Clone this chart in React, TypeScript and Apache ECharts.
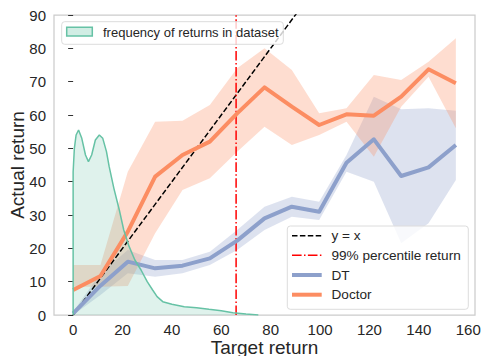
import React, { useEffect, useRef } from "react";
import * as echarts from "echarts";

const targets = [0, 11.07, 22.14, 33.21, 44.29, 55.36, 66.43, 77.5, 88.57, 99.64, 110.71, 121.79, 132.86, 143.93, 155];

const doctorMean = [7.5, 11.7, 25, 41.5, 48, 52, 60.5, 68.3, 62.5, 57, 60.2, 59.8, 65.5, 73.7, 69.5];
const doctorLow = [8.5, 8.5, 8.7, 24.5, 37.5, 41, 49, 56.5, 51, 54, 58, 47.5, 62.5, 71.5, 56];
const doctorHigh = [15, 15, 43, 58, 58.3, 63, 74, 80, 73.5, 60.5, 62, 72, 70.5, 76, 83];

const dtMean = [0.5, 8.8, 16, 14, 14.8, 17, 22.3, 29, 32.5, 31, 45.7, 52.7, 41.7, 44.3, 51];
const dtLow = [0, 6, 12.5, 11.5, 12.5, 15, 19.5, 25.5, 29.5, 28.5, 43, 40, 21.5, 27.5, 40.5];
const dtHigh = [1, 12.5, 19.5, 16.5, 16.5, 19, 25.5, 32.5, 35.5, 34, 48, 65.5, 61.7, 62, 61.3];

const kdeX = [0, 0, 0.5, 1.2, 2.2, 3.5, 5, 6.2, 7.5, 9, 10.6, 12, 13.5, 14.6, 16.5, 18.7, 20.5, 22.7, 25, 27.5, 30, 32.2, 34, 36.3, 40, 45, 50, 55, 60, 64.7, 70, 75];
const kdeY = [0, 43, 50, 54, 55.5, 53, 48, 46, 48, 52.5, 54, 53, 49, 44.5, 38, 31.5, 25.5, 20.5, 16.5, 13.5, 10, 7.5, 5.5, 4, 3.2, 2.5, 2.2, 1.7, 1.3, 0.7, 0.3, 0];

const identityLine = [0, 155];
const percentile99 = 66;
const yMax = 90;

const xTicks = [0, 20, 40, 60, 80, 100, 120, 140, 160];

const FONT = "'Liberation Sans', Arial, sans-serif";
const TEXT = "#262626";
const GREEN = "#66c2a5";
const ORANGE = "#fc8d62";
const BLUE = "#8da0cb";

function bandSeries(low: number[], high: number[], fill: string) {
  const data = targets.map((x, i) => [x, low[i], high[i]]);
  return {
    type: "custom",
    data,
    encode: { x: 0, y: [1, 2] },
    silent: true,
    renderItem: (params: any, api: any) => {
      if (params.dataIndex !== 0) return null;
      const upper = data.map((d) => api.coord([d[0], d[2]]));
      const lower = data.map((d) => api.coord([d[0], d[1]])).reverse();
      return {
        type: "polygon",
        shape: { points: upper.concat(lower) },
        style: { fill, stroke: "none" },
      };
    },
  };
}

function lineSeries(ys: number[], color: string, name: string) {
  return {
    type: "line",
    name,
    data: targets.map((x, i) => [x, ys[i]]),
    symbol: "none",
    showSymbol: false,
    lineStyle: { color, width: 4, join: "round", cap: "butt" },
    itemStyle: { color },
  };
}

export default function App() {
  const ref = useRef<HTMLDivElement>(null);

  useEffect(() => {
    if (!ref.current) return;
    const chart = echarts.init(ref.current, undefined, { renderer: "svg" });

    const legendRows = [
      { label: "y = x", color: "#000000", width: 1.5, dash: [5.5, 2.4] as any },
      { label: "99% percentile return", color: "#ff0000", width: 1.5, dash: [9.6, 2.4, 1.5, 2.4] as any },
      { label: "DT", color: BLUE, width: 4, dash: null },
      { label: "Doctor", color: ORANGE, width: 4, dash: null },
    ];
    const rowY = [235.7, 255.3, 275, 294.7];

    const graphics: any[] = [
      {
        type: "rect",
        z: 100,
        shape: { x: 61.7, y: 21.7, width: 221.6, height: 22.6, r: 3 },
        style: { fill: "rgba(255,255,255,0.8)", stroke: "#dcdcdc", lineWidth: 1 },
      },
      {
        type: "rect",
        z: 101,
        shape: { x: 66.7, y: 27.3, width: 25.6, height: 8.7 },
        style: { fill: "rgba(102,194,165,0.3)", stroke: GREEN, lineWidth: 1.5 },
      },
      {
        type: "text",
        z: 101,
        x: 103,
        y: 32,
        style: { text: "frequency of returns in dataset", fill: TEXT, font: `13px ${FONT}`, verticalAlign: "middle", align: "left" },
      },
      {
        type: "rect",
        z: 100,
        shape: { x: 287.3, y: 226, width: 181, height: 83.3, r: 3 },
        style: { fill: "rgba(255,255,255,0.8)", stroke: "#dcdcdc", lineWidth: 1 },
      },
    ];
    legendRows.forEach((row, i) => {
      graphics.push({
        type: "line",
        z: 101,
        shape: { x1: 292, y1: rowY[i], x2: 321.7, y2: rowY[i] },
        style: { stroke: row.color, lineWidth: row.width, lineDash: row.dash || undefined },
      });
      graphics.push({
        type: "text",
        z: 101,
        x: 331.5,
        y: rowY[i],
        style: { text: row.label, fill: TEXT, font: `13.6px ${FONT}`, verticalAlign: "middle", align: "left" },
      });
    });

    const option: any = {
      animation: false,
      backgroundColor: "#ffffff",
      grid: {
        left: 54,
        top: 15,
        width: 421,
        height: 300,
        show: true,
        borderColor: "#cccccc",
        borderWidth: 1.25,
        backgroundColor: "transparent",
        containLabel: false,
        outerBoundsMode: "none",
      },
      xAxis: {
        type: "value",
        min: -7.75,
        max: 162.75,
        name: "Target return",
        nameLocation: "middle",
        nameGap: 23,
        nameMoveOverlap: false,
        nameTextStyle: { fontFamily: FONT, fontSize: 19, color: TEXT },
        axisLine: { show: false },
        axisTick: { show: false },
        splitLine: { show: false },
        axisLabel: {
          customValues: xTicks,
          fontFamily: FONT,
          fontSize: 15,
          color: TEXT,
          margin: 7,
        },
      },
      yAxis: {
        type: "value",
        min: 0,
        max: yMax,
        interval: 10,
        name: "Actual return",
        nameLocation: "middle",
        nameGap: 27,
        nameMoveOverlap: false,
        nameTextStyle: { fontFamily: FONT, fontSize: 19, color: TEXT },
        axisLine: { show: false },
        axisTick: { show: true, length: 5, lineStyle: { color: "#333333", width: 1 } },
        splitLine: { show: false },
        axisLabel: { fontFamily: FONT, fontSize: 15, color: TEXT, margin: 8 },
      },
      series: [
        {
          type: "line",
          name: "y = x",
          data: identityLine.map((v) => [v, v]),
          symbol: "none",
          lineStyle: { color: "#000000", width: 1.5, type: [5.5, 2.4] },
        },
        {
          type: "line",
          name: "99% percentile return",
          data: [[percentile99, 0], [percentile99, yMax]],
          symbol: "none",
          lineStyle: { color: "#ff0000", width: 1.5, type: [9.6, 2.4, 1.5, 2.4] },
        },
        bandSeries(dtLow, dtHigh, "rgba(141,160,203,0.3)"),
        lineSeries(dtMean, BLUE, "DT"),
        bandSeries(doctorLow, doctorHigh, "rgba(252,141,98,0.3)"),
        lineSeries(doctorMean, ORANGE, "Doctor"),
        {
          type: "line",
          name: "frequency of returns in dataset",
          data: kdeX.map((x, i) => [x, kdeY[i]]),
          symbol: "none",
          lineStyle: { color: GREEN, width: 1.5 },
          areaStyle: { color: "rgba(102,194,165,0.3)" },
        },
      ],
      graphic: graphics,
    };

    chart.setOption(option);
    return () => chart.dispose();
  }, []);

  return (
    <div
      ref={ref}
      style={{ position: "fixed", left: 0, top: 0, width: 483, height: 356, background: "#ffffff" }}
    />
  );
}
